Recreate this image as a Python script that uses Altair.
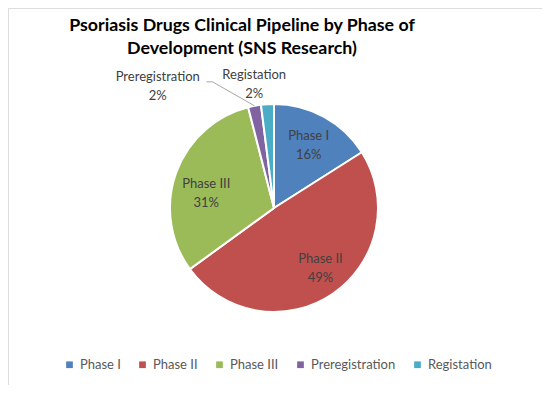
import altair as alt
import pandas as pd

phases = ["Phase I", "Phase II", "Phase III", "Preregistration", "Registation"]
shares = [16, 49, 31, 2, 2]
colors = ["#4F81BD", "#C0504D", "#9BBB59", "#8064A2", "#4BACC6"]
title_lines = ["Psoriasis Drugs Clinical Pipeline by Phase of", "Development (SNS Research)"]

df = pd.DataFrame({"phase": phases, "share": shares, "idx": list(range(len(phases)))})

FONT = "Lato"
W, H = 534, 377
CX, CY = 266, 200
R = 104

base = alt.Chart(df).transform_calculate(
    label="datum.phase + '\\n' + datum.share + '%'"
)

color = alt.Color(
    "phase:N",
    scale=alt.Scale(domain=phases, range=colors),
    sort=phases,
    legend=alt.Legend(
        title=None, orient="none", legendX=55, legendY=350, direction="horizontal",
        symbolType="square", symbolSize=45, symbolStrokeWidth=0,
        labelFont=FONT, labelFontSize=13, labelColor="#595959",
        columnPadding=15, padding=0,
    ),
)

theta = alt.Theta("share:Q", stack=True)
order = alt.Order("idx:Q")

arc = base.mark_arc(outerRadius=R, stroke="white", strokeWidth=2).encode(
    theta=theta, color=color, order=order, x=alt.value(CX), y=alt.value(CY)
)

def text_layer(name, radius, dx=0, dy=0):
    return base.mark_text(
        radius=radius, dx=dx, dy=dy, lineBreak="\n", font=FONT, fontSize=13,
        color="#404040", align="center", baseline="middle", lineHeight=19,
    ).encode(
        theta=theta, order=order, x=alt.value(CX), y=alt.value(CY),
        text=alt.condition(f"datum.phase == '{name}'", "label:N", alt.value("")),
    )

lab1 = text_layer("Phase I", 72, dy=-9)
lab2 = text_layer("Phase II", 72, dx=6, dy=-9)
lab3 = text_layer("Phase III", 72)
prereg = text_layer("Preregistration", 124, dx=-93, dy=-9)
regis = text_layer("Registation", 124, dx=-12, dy=-9)

lead = alt.Chart(df).transform_window(
    cum="sum(share)", sort=[alt.SortField("idx")], frame=[None, 0]
).transform_joinaggregate(total="sum(share)").transform_calculate(
    a="2*PI*(datum.cum - datum.share/2)/datum.total",
    x1=f"{CX} + {R}*sin(datum.a)",
    y1=f"{CY} - {R}*cos(datum.a)",
    x2="datum.x1 - 42",
    y2="datum.y1 - 24",
    x3="datum.x2 - 6",
).transform_filter("datum.phase == 'Preregistration'")

xs = alt.Scale(domain=[0, W], nice=False, zero=False)
ys = alt.Scale(domain=[0, H], nice=False, zero=False, reverse=True)

lead1 = lead.mark_rule(color="#a6a6a6", strokeWidth=1).encode(
    x=alt.X("x1:Q", scale=xs, axis=None), y=alt.Y("y1:Q", scale=ys, axis=None),
    x2="x2:Q", y2="y2:Q",
)
lead2 = lead.mark_rule(color="#a6a6a6", strokeWidth=1).encode(
    x=alt.X("x2:Q", scale=xs, axis=None), y=alt.Y("y2:Q", scale=ys, axis=None),
    x2="x3:Q",
)

chart = alt.layer(arc, lab1, lab2, lab3, prereg, regis, lead1, lead2).properties(
    width=W, height=H, padding=0,
    title=alt.TitleParams(
        text=title_lines, font=FONT, fontSize=17.8, fontWeight="bold", color="#000000",
        anchor="middle", dx=-33, offset=-50, lineHeight=23,
    ),
).configure_view(stroke="#d9d9d9").configure(background="white")

chart.save("out.html", embed_options={"renderer": "svg", "actions": False})
